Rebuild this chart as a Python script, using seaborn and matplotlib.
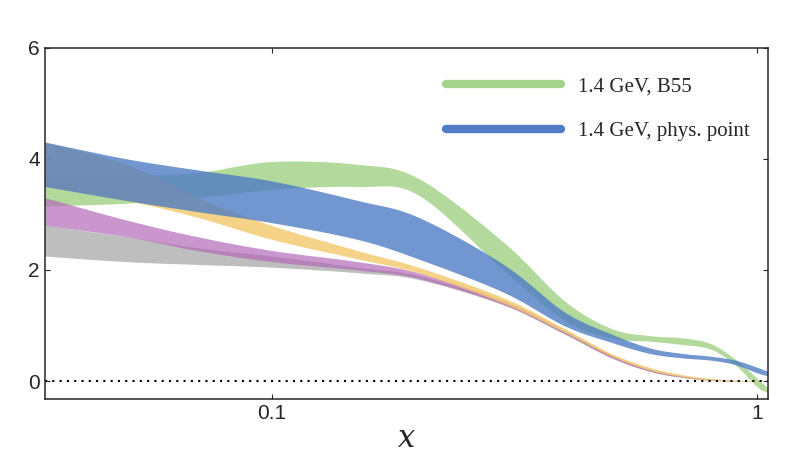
import numpy as np
import matplotlib
matplotlib.use("Agg")
import matplotlib.pyplot as plt
import seaborn as sns

x = [0.034, 0.05, 0.07, 0.1, 0.15, 0.2, 0.3, 0.4, 0.5, 0.6, 0.7, 0.8, 0.9, 1.0, 1.05]
green_lo = [3.15, 3.2, 3.3, 3.45, 3.5, 3.35, 2.0, 1.1, 0.78, 0.72, 0.66, 0.58, 0.3, -0.1, -0.2]
green_hi = [3.7, 3.7, 3.75, 3.95, 3.9, 3.65, 2.5, 1.45, 0.95, 0.82, 0.78, 0.68, 0.4, 0.05, -0.12]
blue_lo = [3.5, 3.25, 3.05, 2.85, 2.55, 2.2, 1.6, 1.0, 0.7, 0.5, 0.42, 0.38, 0.3, 0.15, 0.1]
blue_hi = [4.3, 4.0, 3.8, 3.6, 3.25, 2.95, 2.1, 1.25, 0.85, 0.6, 0.5, 0.45, 0.38, 0.25, 0.18]
orange_lo = [3.5, 3.25, 2.95, 2.55, 2.2, 1.95, 1.4, 0.88, 0.45, 0.2, 0.08, 0.02, 0.0, 0.0, 0.0]
orange_hi = [4.3, 3.9, 3.3, 2.8, 2.35, 2.05, 1.5, 0.95, 0.5, 0.25, 0.12, 0.05, 0.02, 0.01, 0.0]
magenta_lo = [2.8, 2.6, 2.35, 2.15, 2.0, 1.85, 1.38, 0.86, 0.43, 0.18, 0.07, 0.02, 0.0, 0.0, 0.0]
magenta_hi = [3.3, 2.9, 2.6, 2.35, 2.15, 1.95, 1.45, 0.92, 0.48, 0.22, 0.1, 0.04, 0.01, 0.0, 0.0]
gray_lo = [2.25, 2.15, 2.1, 2.05, 1.95, 1.83, 1.37, 0.85, 0.42, 0.18, 0.07, 0.02, 0.0, 0.0, 0.0]
gray_hi = [2.8, 2.6, 2.4, 2.25, 2.05, 1.9, 1.42, 0.9, 0.46, 0.2, 0.09, 0.03, 0.01, 0.0, 0.0]
legend_labels = ["1.4 GeV, B55", "1.4 GeV, phys. point"]

sns.set_style("ticks")
plt.rcParams["font.family"] = "Liberation Sans"
fig, ax = plt.subplots(figsize=(8, 4.75), dpi=100)
fig.subplots_adjust(left=0.056, right=0.96, top=0.9, bottom=0.16)

lx = np.log(x)
def smooth(vals, n=40):
    # Catmull-Rom spline through the points in log-x
    p = np.asarray(vals, float)
    P = np.concatenate([[2*p[0]-p[1]], p, [2*p[-1]-p[-2]]])
    T = np.concatenate([[2*lx[0]-lx[1]], lx, [2*lx[-1]-lx[-2]]])
    xo, yo = [], []
    t = np.linspace(0, 1, n, endpoint=False)
    for i in range(1, len(P)-2):
        for arr, out in ((T, xo), (P, yo)):
            a0, a1, a2, a3 = arr[i-1], arr[i], arr[i+1], arr[i+2]
            out.extend(0.5*((2*a1) + (-a0+a2)*t + (2*a0-5*a1+4*a2-a3)*t**2 + (-a0+3*a1-3*a2+a3)*t**3))
    xo.append(lx[-1]); yo.append(p[-1])
    return np.exp(xo), np.array(yo)

def band(lo, hi, color, alpha):
    xs, l = smooth(lo)
    _, h = smooth(hi)
    ax.fill_between(xs, l, h, color=color, alpha=alpha, lw=0)

band(gray_lo, gray_hi, "#a8a8a8", 0.75)
band(green_lo, green_hi, "#a6d38b", 0.85)
band(magenta_lo, magenta_hi, "#b36bb8", 0.7)
band(orange_lo, orange_hi, "#f2c76a", 0.8)
band(blue_lo, blue_hi, "#4f7cc4", 0.8)

ax.axhline(0, color="black", ls=(0, (1, 2.5)), lw=1.5)
ax.set_xscale("log")
ax.set_xlim(0.034, 1.053)
ax.set_ylim(-0.32, 6)
ax.set_xticks([0.1, 1])
ax.set_xticklabels(["0.1", "1"])
ax.set_yticks([0, 2, 4, 6])
ax.tick_params(labelsize=15, direction="in", top=True, right=True)
ax.tick_params(which="minor", length=0)
for s in ax.spines.values():
    s.set_linewidth(1.1)
ax.set_xlabel("x", fontsize=22, fontstyle="italic", family="DejaVu Serif", labelpad=0)

h1, = ax.plot([], [], color="#a6d38b", lw=6)
h2, = ax.plot([], [], color="#4f7cc4", lw=6)
ax.legend([h1, h2], legend_labels, loc="upper right", frameon=False,
          prop={"family": "Liberation Serif", "size": 15}, handlelength=5.5,
          labelspacing=1.2, bbox_to_anchor=(1.0, 0.97))
fig.savefig("out.png", dpi=100)
